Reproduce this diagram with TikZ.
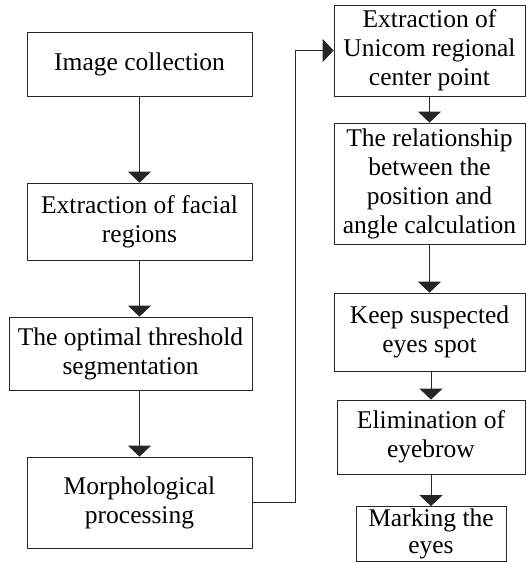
\documentclass[tikz,border=0pt]{standalone}
\usepackage{fontspec}
\setmainfont{Liberation Serif}
\usetikzlibrary{arrows.meta, positioning, calc}
\tikzset{
    % Box styles with sharp corners
    component/.style={
        rectangle,
        draw=black!85,
        fill=white,
        line width=0.8pt,
        inner sep=1pt,
        align=center,
        font=\fontsize{25.5}{29}\selectfont
    },
    arrow style/.style={
        -{Triangle[width=23pt,length=11pt]},
        line width=0.8pt,
        black!85
    }
}
\begin{document}
\begin{tikzpicture}[x=1pt, y=-1pt]
        \useasboundingbox (0,0) rectangle (526,563);

        % Left column
        \node[component, minimum width=225pt, minimum height=64pt] (collect) at (139.5, 64) {Image collection};
        \node[component, minimum width=225pt, minimum height=77pt] (facial) at (139.5, 221.5) {Extraction of facial\\regions};
        \node[component, minimum width=243pt, minimum height=73pt] (threshold) at (130.5, 353.5) {The optimal threshold\\segmentation};
        \node[component, minimum width=225pt, minimum height=91pt] (morph) at (139.5, 502.5) {Morphological\\processing};

        % Right column
        \node[component, minimum width=191pt, minimum height=91pt] (center) at (429.5, 50.5) {Extraction of\\Unicom regional\\center point};
        \node[component, minimum width=191pt, minimum height=121pt] (relation) at (429.5, 183.5) {The relationship\\between the\\position and\\angle calculation};
        \node[component, minimum width=191pt, minimum height=78pt] (suspect) at (429.5, 332) {Keep suspected\\eyes spot};
        \node[component, minimum width=188pt, minimum height=74pt] (eyebrow) at (431, 437) {Elimination of\\eyebrow};
        \node[component, minimum width=150pt, minimum height=55pt, inner sep=0pt, font=\fontsize{25.5}{27}\selectfont] (marking) at (431, 534) {Marking the\\eyes};

        % Pipeline arrows
        \draw[arrow style] (collect) -- (facial);
        \draw[arrow style] (facial) -- (facial |- threshold.north);
        \draw[arrow style] (threshold.south -| morph) -- (morph);
        \draw[arrow style] (morph.east) -- ++(43,0) |- (center.west);
        \draw[arrow style] (center) -- (relation);
        \draw[arrow style] (relation) -- (suspect);
        \draw[arrow style] (suspect.south -| eyebrow) -- (eyebrow);
        \draw[arrow style] (eyebrow) -- (marking);
    \end{tikzpicture}
\end{document}
